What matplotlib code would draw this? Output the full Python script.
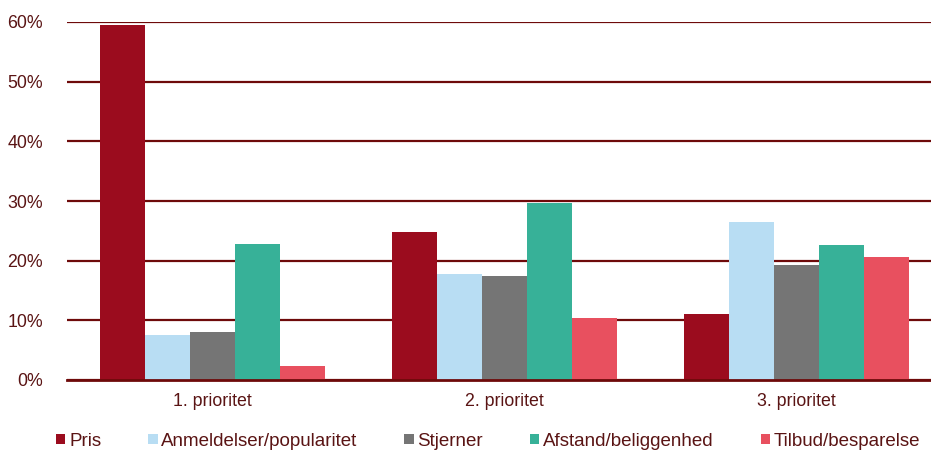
import matplotlib
matplotlib.use("Agg")
import matplotlib.pyplot as plt
import numpy as np

plt.rcParams['font.family'] = ['Liberation Sans', 'DejaVu Sans']

categories = ['1. prioritet', '2. prioritet', '3. prioritet']
series = ['Pris', 'Anmeldelser/popularitet', 'Stjerner', 'Afstand/beliggenhed', 'Tilbud/besparelse']
pris = [59.5, 24.8, 11.1]
anmeldelser = [7.5, 17.8, 26.5]
stjerner = [8.0, 17.4, 19.3]
afstand = [22.8, 29.7, 22.6]
tilbud = [2.3, 10.4, 20.6]
colors = ['#9b0c1e', '#b8ddf3', '#757575', '#37b198', '#e8505f']

values = [pris, anmeldelser, stjerner, afstand, tilbud]
text_col = '#5a1414'
grid_col = '#6e0a0a'

fig = plt.figure(figsize=(9.31, 4.5), dpi=100)
ax = fig.add_axes([66.5 / 931, 1 - 380 / 450, 1 - 66.5 / 931, 358 / 450])

x = np.arange(len(categories))
w = 0.154
for i, (name, vals) in enumerate(zip(series, values)):
    ax.bar(x + (i - 2) * w, vals, width=w, color=colors[i], label=name, zorder=3)

ax.set_ylim(0, 60)
ax.set_xlim(-0.5, -0.5 + (931 - 66.5) / 292)
ax.set_yticks(range(0, 61, 10))
ax.set_yticklabels([f'{v}%' for v in range(0, 61, 10)])
ax.yaxis.grid(True, color=grid_col, linewidth=1.6, zorder=1)
ax.set_axisbelow(True)
ax.set_xticks(x)
ax.set_xticklabels(categories)
for s in ['top', 'right', 'left']:
    ax.spines[s].set_visible(False)
ax.spines['bottom'].set_color(grid_col)
ax.spines['bottom'].set_linewidth(2)
ax.spines['bottom'].set_zorder(4)
ax.tick_params(axis='both', length=0, labelsize=12.8, colors=text_col, pad=9)
ax.tick_params(axis='y', pad=17)

fig.legend(loc='center left', bbox_to_anchor=(56 / 931, 1 - 441 / 450), ncol=5,
           frameon=False, fontsize=13.5, handlelength=0.5, handleheight=0.5,
           handletextpad=0.2, columnspacing=2.5, labelcolor=text_col,
           borderaxespad=0, borderpad=0)

fig.savefig('out.png', dpi=100)
